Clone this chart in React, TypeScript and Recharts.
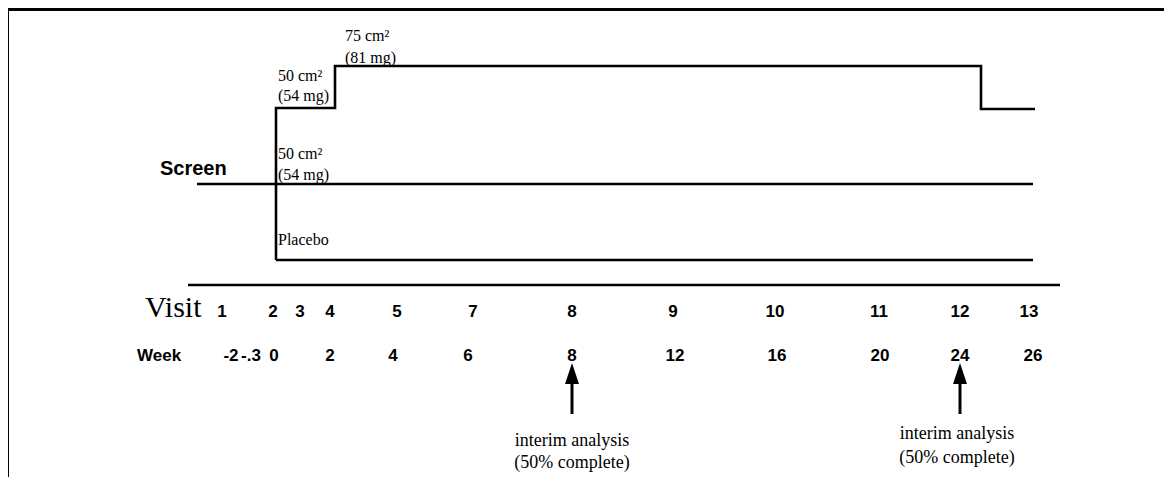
import React from "react";
import { ComposedChart, Line, XAxis, YAxis, ReferenceDot, ReferenceLine } from "recharts";

// timeline runs left to right in layout units, dose level runs bottom to top
const visitX = [34, 85, 112, 142, 209, 285, 384, 485, 587, 691, 772, 841];
const visitLabels = ["1", "2", "3", "4", "5", "7", "8", "9", "10", "11", "12", "13"];
const weekX = [43, 63, 86, 142, 205, 280, 384, 487, 589, 692, 772, 845];
const weekLabels = ["-2", "-.3", "0", "2", "4", "6", "8", "12", "16", "20", "24", "26"];

const screenArm = [
  { x: 9, y: 101 },
  { x: 845, y: 101 },
];
const placeboArm = [
  { x: 88, y: 25 },
  { x: 845, y: 25 },
];
const titrationArm = [
  { x: 88, y: 25 },
  { x: 88, y: 177 },
  { x: 147, y: 177 },
  { x: 147, y: 219 },
  { x: 793, y: 219 },
  { x: 793, y: 176 },
  { x: 847, y: 176 },
];

const doseLabels = [
  { x: 157, y: 250, text: "75 cm²" },
  { x: 157, y: 228, text: "(81 mg)" },
  { x: 90, y: 210, text: "50 cm²" },
  { x: 90, y: 190, text: "(54 mg)" },
  { x: 90, y: 132, text: "50 cm²" },
  { x: 90, y: 111, text: "(54 mg)" },
  { x: 90, y: 46, text: "Placebo" },
];

const interimArrowX = [384, 772];
const arrowTip = -78;
const arrowTail = -129;
const interimLabels = [
  { x: 384, y: -155, text: "interim analysis" },
  { x: 384, y: -177, text: "(50% complete)" },
  { x: 769, y: -148, text: "interim analysis" },
  { x: 769, y: -172, text: "(50% complete)" },
];

const serif = "'Liberation Serif', 'Times New Roman', serif";
const sans = "'Liberation Sans', Arial, sans-serif";

const numStyle = { fontFamily: sans, fontWeight: 700, fontSize: 17, fill: "#000" };

const VisitTick = (props: any) => {
  const { x, y, payload } = props;
  const label = visitLabels[visitX.indexOf(payload.value)];
  return (
    <text x={x} y={y + 26} textAnchor="middle" dominantBaseline="central" style={numStyle}>
      {label}
    </text>
  );
};

const WeekTick = (props: any) => {
  const { x, y, payload } = props;
  const label = weekLabels[weekX.indexOf(payload.value)];
  return (
    <text x={x} y={y + 25} textAnchor="middle" dominantBaseline="central" style={numStyle}>
      {label}
    </text>
  );
};

const textShape = (text: string, style: any, anchor: string) => (p: any) => (
  <text x={p.cx} y={p.cy} textAnchor={anchor} dominantBaseline="central" style={style}>
    {text}
  </text>
);

const arrowHead = (p: any) => (
  <polygon points={`${p.cx},${p.cy} ${p.cx - 7},${p.cy + 21} ${p.cx + 7},${p.cy + 21}`} fill="#000" />
);

export default function App() {
  const lineProps = {
    xAxisId: "visit",
    dataKey: "y",
    stroke: "#000",
    strokeWidth: 2.6,
    dot: false,
    activeDot: false,
    type: "linear" as const,
    isAnimationActive: false,
    strokeLinejoin: "miter" as const,
  };

  return (
    <div style={{ position: "relative", width: 1156, height: 469 }}>
      <div style={{ position: "absolute", left: -2, top: 0, width: 1166, height: 3, background: "#000" }} />
      <div style={{ position: "absolute", left: -2, top: 0, width: 3, height: 477, background: "#000" }} />
      <ComposedChart width={1156} height={469} margin={{ top: 12, right: 104, bottom: 102, left: 180 }}>
        <XAxis
          xAxisId="visit"
          type="number"
          dataKey="x"
          domain={[0, 872]}
          allowDataOverflow
          ticks={visitX}
          interval={0}
          tick={VisitTick}
          tickLine={false}
          tickSize={0}
          tickMargin={0}
          height={45}
          axisLine={{ stroke: "#000", strokeWidth: 2.6 }}
        />
        <XAxis
          xAxisId="week"
          type="number"
          dataKey="x"
          domain={[0, 872]}
          allowDataOverflow
          ticks={weekX}
          interval={0}
          tick={WeekTick}
          tickLine={false}
          tickSize={0}
          tickMargin={0}
          height={45}
          axisLine={false}
        />
        <YAxis type="number" domain={[0, 265]} allowDataOverflow hide />

        <Line {...lineProps} data={screenArm} />
        <Line {...lineProps} data={placeboArm} />
        <Line {...lineProps} data={titrationArm} />

        {doseLabels.map((d, i) => (
          <ReferenceDot
            key={"dose" + i}
            xAxisId="visit"
            x={d.x}
            y={d.y}
            r={0}
            ifOverflow="visible"
            shape={textShape(d.text, { fontFamily: serif, fontSize: 16, fill: "#000" }, "start")}
          />
        ))}

        <ReferenceDot
          xAxisId="visit"
          x={-28}
          y={117}
          r={0}
          ifOverflow="visible"
          shape={textShape("Screen", { fontFamily: sans, fontWeight: 700, fontSize: 20, fill: "#000" }, "start")}
        />
        <ReferenceDot
          xAxisId="visit"
          x={-43}
          y={-21}
          r={0}
          ifOverflow="visible"
          shape={textShape("Visit", { fontFamily: serif, fontSize: 30, fill: "#000" }, "start")}
        />
        <ReferenceDot
          xAxisId="visit"
          x={-51}
          y={-70}
          r={0}
          ifOverflow="visible"
          shape={textShape("Week", { fontFamily: sans, fontWeight: 700, fontSize: 17, fill: "#000" }, "start")}
        />

        {interimArrowX.map((x, i) => (
          <ReferenceLine
            key={"shaft" + i}
            xAxisId="visit"
            segment={[
              { x, y: arrowTip - 18 },
              { x, y: arrowTail },
            ]}
            stroke="#000"
            strokeWidth={3}
            ifOverflow="visible"
          />
        ))}
        {interimArrowX.map((x, i) => (
          <ReferenceDot key={"head" + i} xAxisId="visit" x={x} y={arrowTip} r={0} ifOverflow="visible" shape={arrowHead} />
        ))}
        {interimLabels.map((d, i) => (
          <ReferenceDot
            key={"interim" + i}
            xAxisId="visit"
            x={d.x}
            y={d.y}
            r={0}
            ifOverflow="visible"
            shape={textShape(d.text, { fontFamily: serif, fontSize: 18, fill: "#000" }, "middle")}
          />
        ))}
      </ComposedChart>
    </div>
  );
}
